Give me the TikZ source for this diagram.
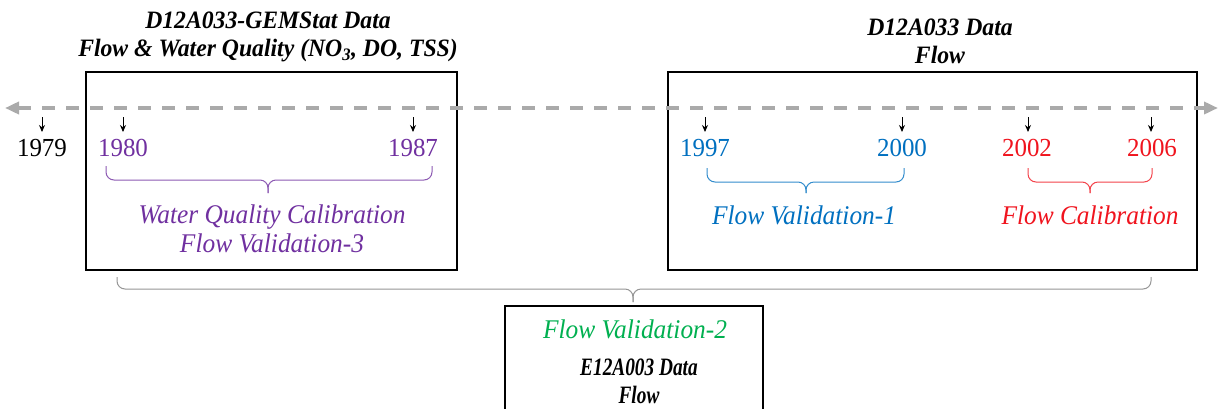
\documentclass[tikz,border=0pt]{standalone}
\usepackage{fontspec}
\setmainfont{Liberation Serif}
\usetikzlibrary{arrows.meta}
\definecolor{cpurple}{RGB}{112,48,160}
\definecolor{cblue}{RGB}{0,112,192}
\definecolor{cred}{RGB}{240,20,30}
\definecolor{cgreen}{RGB}{0,176,80}
\definecolor{cgrayline}{RGB}{170,170,170}
\definecolor{cbrace}{RGB}{150,150,150}
\tikzset{
  hdr/.style={font=\fontsize{25}{28}\selectfont\bfseries\itshape, xscale=0.92, align=center, inner sep=0pt},
  yr/.style={font=\fontsize{26}{30}\selectfont, xscale=0.96, inner sep=0pt},
  lbl/.style={font=\fontsize{27}{29}\selectfont\itshape, xscale=0.94, align=center, inner sep=0pt},
  databox/.style={draw=black, line width=1.4pt},
  tick/.style={-{Stealth[length=7pt,width=6pt]}, line width=0.9pt},
  timeline/.style={cgrayline, line width=4pt, dash pattern=on 13pt off 11pt,
     {Triangle[length=14pt,width=12pt]}-{Triangle[length=14pt,width=12pt]}},
  bracepath/.style={line width=1pt, rounded corners=8pt},
}
\begin{document}
\begin{tikzpicture}[x=1pt,y=-1pt]
\useasboundingbox (0,0) rectangle (1221,408);
\fill[white] (0,0) rectangle (1221,408);
\clip (0,0) rectangle (1221,408);
% boxes
\draw[databox] (86,72) rectangle (457,270);
\draw[databox] (668,72) rectangle (1197,270);
\draw[databox] (505,306) rectangle (763,420);
% timeline
\coordinate (tl) at (5,108);
\coordinate (tr) at (1218,108);
\draw[timeline] (tl) -- (tr);
% headers
\node[hdr, xscale=1.03] (h1) at (268,37) {D12A033-GEMStat Data\\Flow \& Water Quality (NO\textsubscript{3}, DO, TSS)};
\node[hdr, xscale=1.03] (h2) at (940,41) {D12A033 Data\\Flow};
% years
\node[yr] (y79) at (42,148) {1979};
\node[yr, text=cpurple] (y80) at (123,148) {1980};
\node[yr, text=cpurple] (y87) at (413,148) {1987};
\node[yr, text=cblue] (y97) at (705,148) {1997};
\node[yr, text=cblue] (y00) at (902,148) {2000};
\node[yr, text=cred] (y02) at (1027,148) {2002};
\node[yr, text=cred] (y06) at (1152,148) {2006};
% ticks
\foreach \n/\x in {79/42,80/123,87/413,97/705,00/902,02/1028,06/1151}{
  \coordinate (t\n) at (\x,117);
  \draw[tick] (t\n) -- ++(0,15);
}
% braces
\draw[bracepath, cpurple!80] (106,166) |- (268,180) -- (268,193);
\draw[bracepath, cpurple!80] (432,166) |- (268,180) -- (268,193);
\draw[bracepath, cblue!80] (707,168) |- (806,182) -- (806,193);
\draw[bracepath, cblue!80] (904,168) |- (806,182) -- (806,193);
\draw[bracepath, cred!80] (1028,168) |- (1090,182) -- (1090,193);
\draw[bracepath, cred!80] (1152,168) |- (1090,182) -- (1090,193);
\draw[bracepath, cbrace] (117,277) |- (633,289) -- (633,302);
\draw[bracepath, cbrace] (1151,277) |- (633,289) -- (633,302);
% labels
\node[lbl, text=cpurple] (l1) at (272,229) {Water Quality Calibration\\Flow Validation-3};
\node[lbl, text=cblue] (l2) at (804,215) {Flow Validation-1};
\node[lbl, text=cred] (l3) at (1090,215) {Flow Calibration};
\node[lbl, text=cgreen] (l4) at (635,329) {Flow Validation-2};
\node[hdr, xscale=0.84] (h3) at (639,381) {E12A003 Data\\Flow};
\end{tikzpicture}
\end{document}
